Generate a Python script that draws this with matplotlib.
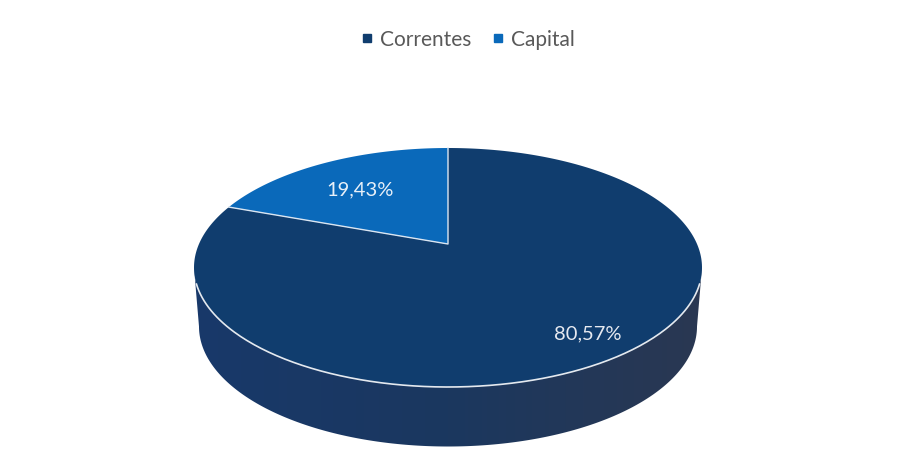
import numpy as np
import matplotlib
matplotlib.use("Agg")
import matplotlib.pyplot as plt
from matplotlib.colors import LinearSegmentedColormap
from matplotlib.lines import Line2D
from matplotlib.patches import Polygon

categorias = ["Correntes", "Capital"]
valores = [80.57, 19.43]
cores = ["#103d6e", "#0a69ba"]

plt.rcParams['font.family'] = ['Lato', 'DejaVu Sans']

# topo do disco em perspectiva: elipse com o centro do pie deslocado para cima
cx, cy = 448, 268.5
a, b = 254, 119.5
apice_y = 245
k = 0.197
a2 = a * np.sqrt(1 - k ** 2)
b2 = 96 * (1 + k)
prof = 59


def projeta(ang):
    u, v = np.cos(ang), np.sin(ang)
    d = 1 + k * v
    return cx + a2 * u / d, apice_y - b2 * v / d


def fatia(ini, fim):
    ang = np.radians(np.linspace(ini, fim, 300))
    x, y = projeta(ang)
    return np.r_[cx, x], np.r_[apice_y, y]


fig = plt.figure(figsize=(9.1, 4.52), dpi=100)
ax = fig.add_axes([0, 0, 1, 1])

# parede lateral com degrade
t = np.linspace(np.pi, 0, 300)
sup_x, sup_y = cx + a * np.cos(t), cy + b * np.sin(t)
inf_x, inf_y = cx + (a - 5) * np.cos(t), cy + prof + (b + 0.5) * np.sin(t)
parede = np.c_[np.r_[sup_x, inf_x[::-1]], np.r_[sup_y, inf_y[::-1]]]
cmap = LinearSegmentedColormap.from_list("lado", ["#18396a", "#1b375f", "#2a3852"])
img = ax.imshow(np.linspace(0, 1, 256)[None, :], cmap=cmap, aspect="auto",
                extent=(cx - a, cx + a, cy + prof + b + 2, cy - 2), zorder=1)
img.set_clip_path(Polygon(parede, transform=ax.transData))

# fatias, Capital comeca em 90 graus e vai no sentido anti-horario
graus_cap = valores[1] / sum(valores) * 360
x1, y1 = fatia(90 + graus_cap, 450)
ax.fill(x1, y1, color=cores[0], lw=0, zorder=2)
x2, y2 = fatia(90, 90 + graus_cap)
ax.fill(x2, y2, color=cores[1], lw=0, zorder=3)

# linhas claras
ax.plot([x2[1], cx, x2[-1]], [y2[1], apice_y, y2[-1]], color="#dbe6f2", lw=1, zorder=4)
t = np.radians(np.linspace(172, 8, 200))
ax.plot(cx + a * np.cos(t), cy + b * np.sin(t), color="#e4e9ef", lw=1.2, zorder=4)

rotulos = [f"{v:.2f}%".replace(".", ",") for v in valores]
ax.text(588, 334, rotulos[0], color="#e6e9f0", fontsize=14.5, ha="center", va="center", zorder=5)
ax.text(360.5, 190, rotulos[1], color="#e8f0f8", fontsize=14.5, ha="center", va="center", zorder=5)

ax.set_xlim(0, 910)
ax.set_ylim(452, 0)
ax.axis("off")

marcas = [Line2D([], [], ls="", marker="s", ms=5.5, mfc=c, mec=c) for c in cores]
ax.legend(marcas, categorias, loc="center", bbox_to_anchor=(464.5 / 910, 1 - 40 / 452),
          ncol=2, frameon=False, fontsize=15, labelcolor="#595959", handletextpad=0.0,
          columnspacing=0.7, handlelength=1.2)

fig.savefig("out.png", dpi=100)
